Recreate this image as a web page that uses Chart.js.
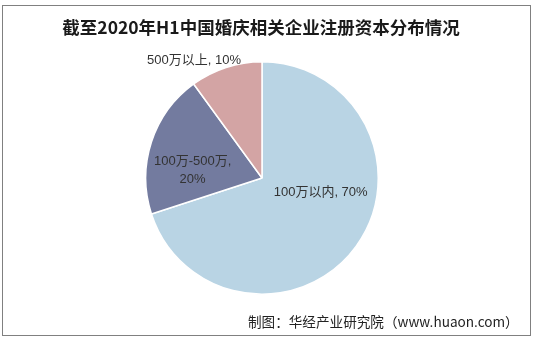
<!DOCTYPE html>
<html>
<head>
<meta charset="utf-8">
<script src="https://cdn.jsdelivr.net/npm/chart.js@4/dist/chart.umd.min.js"></script>
<style>
  html, body { margin: 0; padding: 0; background: #ffffff; }
  #wrap { position: relative; width: 536px; height: 341px; }
</style>
</head>
<body>
<div id="wrap"><canvas id="pieChart" width="536" height="341"></canvas></div>
<script>
// chart data
const categories = ['100万以内', '100万-500万', '500万以上'];
const shares = [70, 20, 10];
const sliceColors = ['#b9d4e4', '#737b9f', '#d3a4a4'];

const chartTitle = '截至2020年H1中国婚庆相关企业注册资本分布情况';
const sourceNote = '制图：华经产业研究院（www.huaon.com）';

// label placement: radius factor, angle tweak (deg), line break or not
const labelPlacement = [
    { r: 0.52, da: -22, split: false },
    { r: 0.6, da: -12, split: true },
    { r: 1.17, da: -12, split: false }
];

// draws frame, title, source and slice labels
const decorPlugin = {
    id: 'decor',
    afterDraw(chart) {
        const ctx = chart.ctx;
        ctx.save();
        ctx.strokeStyle = '#808080';
        ctx.lineWidth = 1;
        ctx.strokeRect(2.5, 5.5, 528, 330);

        ctx.fillStyle = '#1a1a1a';
        ctx.font = 'bold 17.5px "Noto Sans CJK SC", serif';
        ctx.textAlign = 'center';
        ctx.textBaseline = 'middle';
        ctx.fillText(chartTitle, 261, 27);

        ctx.fillStyle = '#222';
        ctx.font = '13.6px "Noto Sans CJK SC", sans-serif';
        ctx.textAlign = 'left';
        ctx.fillText(sourceNote, 248, 322);

        const meta = chart.getDatasetMeta(0);
        ctx.font = '13px "Liberation Sans", "Noto Sans CJK SC", sans-serif';
        ctx.fillStyle = '#333';
        ctx.textAlign = 'center';
        meta.data.forEach((arc, i) => {
            const p = labelPlacement[i];
            const mid = (arc.startAngle + arc.endAngle) / 2 + p.da * Math.PI / 180;
            const x = arc.x + Math.cos(mid) * arc.outerRadius * p.r;
            const y = arc.y + Math.sin(mid) * arc.outerRadius * p.r;
            if (p.split) {
                ctx.fillText(categories[i] + ',', x, y - 9);
                ctx.fillText(shares[i] + '%', x, y + 9);
            } else {
                ctx.fillText(categories[i] + ', ' + shares[i] + '%', x, y);
            }
        });
        ctx.restore();
    }
};

new Chart(document.getElementById('pieChart'), {
    type: 'pie',
    data: {
        labels: categories,
        datasets: [{
            data: shares,
            backgroundColor: sliceColors,
            borderColor: '#ffffff',
            borderWidth: 1.5
        }]
    },
    options: {
        responsive: false,
        animation: false,
        layout: { padding: { top: 61, bottom: 46, left: 0, right: 12 } },
        plugins: {
            legend: { display: false },
            tooltip: { enabled: false },
            title: { display: false }
        }
    },
    plugins: [decorPlugin]
});
</script>
</body>
</html>
